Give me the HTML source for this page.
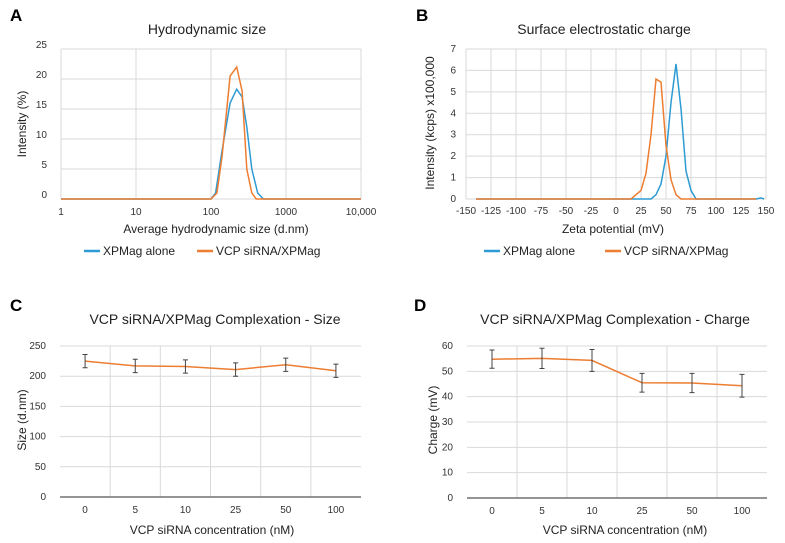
<!DOCTYPE html>
<html><head><meta charset="utf-8"><style>
html,body{margin:0;padding:0;background:#fff;}
svg{display:block;font-family:"Liberation Sans",sans-serif;}
</style></head><body>
<svg id="fig" width="785" height="543" viewBox="0 0 785 543">
<g font-weight="bold" font-size="17" fill="#000">
<text x="10" y="21">A</text>
<text x="416" y="21">B</text>
<text x="10" y="311">C</text>
<text x="414" y="311">D</text>
</g>
<g font-size="14" fill="#222" text-anchor="middle">
<text x="207" y="34">Hydrodynamic size</text>
<text x="604" y="34">Surface electrostatic charge</text>
<text x="215" y="324">VCP siRNA/XPMag Complexation - Size</text>
<text x="615" y="324">VCP siRNA/XPMag Complexation - Charge</text>
</g>
<g font-size="12" fill="#222" text-anchor="middle">
<text x="216" y="233">Average hydrodynamic size (d.nm)</text>
<text x="613" y="233">Zeta potential (mV)</text>
<text x="212" y="534">VCP siRNA concentration (nM)</text>
<text x="625" y="534">VCP siRNA concentration (nM)</text>
<text transform="translate(26,124) rotate(-90)">Intensity (%)</text>
<text transform="translate(434,123) rotate(-90)">Intensity (kcps) x100,000</text>
<text transform="translate(26,420) rotate(-90)">Size (d.nm)</text>
<text transform="translate(437,420) rotate(-90)">Charge (mV)</text>
</g>
<g font-size="12" fill="#222">
<line x1="84" y1="251" x2="100" y2="251" stroke="#2e9bd4" stroke-width="2.5"/>
<text x="103" y="255">XPMag alone</text>
<line x1="197" y1="251" x2="213" y2="251" stroke="#ed7d31" stroke-width="2.5"/>
<text x="216" y="255">VCP siRNA/XPMag</text>
<line x1="484" y1="251" x2="500" y2="251" stroke="#2e9bd4" stroke-width="2.5"/>
<text x="503" y="255">XPMag alone</text>
<line x1="605" y1="251" x2="621" y2="251" stroke="#ed7d31" stroke-width="2.5"/>
<text x="624" y="255">VCP siRNA/XPMag</text>
</g>
<g id="plots"></g>
</svg>
<script>
// Panel A data (x in d.nm, y in %)
const aXTicks = [1, 10, 100, 1000, 10000];
const aXTickLabels = ["1", "10", "100", "1000", "10,000"];
const aYTicks = [0, 5, 10, 15, 20, 25];
const aBlueX = [1, 100, 115, 140, 180, 220, 260, 300, 350, 420, 500, 10000];
const aBlueY = [0, 0, 1, 8, 16, 18.3, 17, 12, 5, 1, 0, 0];
const aOrangeX = [1, 100, 120, 140, 180, 220, 260, 300, 350, 400, 10000];
const aOrangeY = [0, 0, 1, 7, 20.5, 22, 18, 5, 1, 0, 0];
// Panel B data (zeta mV, intensity x100,000)
const bXTicks = [-150, -125, -100, -75, -50, -25, 0, 25, 50, 75, 100, 125, 150];
const bYTicks = [0, 1, 2, 3, 4, 5, 6, 7];
const bBlueX = [-140, 35, 40, 45, 50, 55, 60, 65, 70, 75, 80, 140, 145, 148];
const bBlueY = [0, 0, 0.2, 0.7, 2, 4.5, 6.3, 4.2, 1.3, 0.4, 0, 0, 0.05, 0];
const bOrangeX = [-140, 15, 20, 25, 30, 35, 40, 45, 50, 55, 60, 65, 140];
const bOrangeY = [0, 0, 0.2, 0.4, 1.2, 3, 5.6, 5.45, 2.5, 0.9, 0.2, 0, 0];
// Panels C & D
const concCategories = ["0", "5", "10", "25", "50", "100"];
const cYTicks = [0, 50, 100, 150, 200, 250];
const cSize = [225, 217, 216, 211, 219, 209];
const cSizeErr = [11, 11, 11, 11, 11, 11];
const dYTicks = [0, 10, 20, 30, 40, 50, 60];
const dCharge = [54.8, 55.1, 54.3, 45.5, 45.4, 44.3];
const dChargeErr = [3.6, 4, 4.3, 3.7, 3.8, 4.5];

const NS = "http://www.w3.org/2000/svg";
const root = document.getElementById("plots");
function mk(tag, attrs, parent) {
  const e = document.createElementNS(NS, tag);
  for (const k in attrs) e.setAttribute(k, attrs[k]);
  (parent || root).appendChild(e);
  return e;
}
function txt(x, y, s, anchor) {
  const t = mk("text", {x: x, y: y, "font-size": 10, fill: "#333", "text-anchor": anchor});
  t.textContent = s;
  return t;
}
function linePath(xs, ys, fx, fy) {
  return xs.map((v, i) => (i ? "L" : "M") + fx(v).toFixed(1) + "," + fy(ys[i]).toFixed(1)).join("");
}
const BLUE = "#2e9bd4", ORANGE = "#ed7d31", GRID = "#d9d9d9";

// ---- Panel A
{
  const x0 = 61, x1 = 361, y0 = 199, y1 = 49;
  const fx = v => x0 + (Math.log10(v) - 0) / 4 * (x1 - x0);
  const fy = v => y0 - v / 25 * (y0 - y1);
  aYTicks.forEach(v => {
    const g = mk("line", {x1: x0, x2: x1, y1: fy(v), y2: fy(v), stroke: GRID});
    
    
    const t = txt(x0 - 14, fy(v) - 1, String(v), "end");
    
    
  });
  aXTicks.forEach((v, i) => {
    const g = mk("line", {x1: fx(v), x2: fx(v), y1: y1, y2: y0, stroke: GRID});
    
    
    const t = txt(fx(v), y0 + 16, aXTickLabels[i], "middle");
    
    
  });
  const b = mk("path", {d: linePath(aBlueX, aBlueY, fx, fy), fill: "none", stroke: BLUE, "stroke-width": 1.5});
  
  
  const o = mk("path", {d: linePath(aOrangeX, aOrangeY, fx, fy), fill: "none", stroke: ORANGE, "stroke-width": 1.5});
  
  
}
// ---- Panel B
{
  const x0 = 466, x1 = 766, y0 = 199, y1 = 49;
  const fx = v => x0 + (v + 150) / 300 * (x1 - x0);
  const fy = v => y0 - v / 7 * (y0 - y1);
  bYTicks.forEach(v => {
    const g = mk("line", {x1: x0, x2: x1, y1: fy(v), y2: fy(v), stroke: GRID});
    
    
    const t = txt(x0 - 10, fy(v) + 3, String(v), "end");
    
    
  });
  bXTicks.forEach(v => {
    const g = mk("line", {x1: fx(v), x2: fx(v), y1: y1, y2: y0, stroke: GRID});
    
    
    const t = txt(fx(v), y0 + 15, String(v), "middle");
    
    
  });
  const b = mk("path", {d: linePath(bBlueX, bBlueY, fx, fy), fill: "none", stroke: BLUE, "stroke-width": 1.5});
  
  
  const o = mk("path", {d: linePath(bOrangeX, bOrangeY, fx, fy), fill: "none", stroke: ORANGE, "stroke-width": 1.5});
  
  
}
// ---- Panels C & D
function catPanel(x0, x1, y0, y1, ticks, maxV, vals, errs, suffix) {
  const n = concCategories.length, bw = (x1 - x0) / n;
  const fx = i => x0 + bw * (i + 0.5);
  const fy = v => y0 - v / maxV * (y0 - y1);
  ticks.forEach(v => {
    const g = mk("line", {x1: x0, x2: x1, y1: fy(v), y2: fy(v), stroke: GRID});
    
    
    const t = txt(x0 - 14, fy(v) + 3, String(v), "end");
    
    
  });
  for (let i = 1; i < n; i++) {
    const g = mk("line", {x1: x0 + bw * i, x2: x0 + bw * i, y1: y1, y2: y0, stroke: GRID});
    
    
  }
  const ax = mk("line", {x1: x0, x2: x1, y1: y0, y2: y0, stroke: "#555", "stroke-width": 1.2});
  
  
  concCategories.forEach((c, i) => {
    const t = txt(fx(i), y0 + 16, c, "middle");
    
    
  });
  const xs = vals.map((v, i) => i);
  const p = mk("path", {d: linePath(xs, vals, fx, fy), fill: "none", stroke: ORANGE, "stroke-width": 1.5});
  
  
  vals.forEach((v, i) => {
    const x = fx(i), ya = fy(v + errs[i]), yb = fy(v - errs[i]);
    const e = mk("path", {d: `M${x},${ya}L${x},${yb}M${x-2.5},${ya}L${x+2.5},${ya}M${x-2.5},${yb}L${x+2.5},${yb}`, stroke: "#444", "stroke-width": 1, fill: "none"});
    
    
  });
}
catPanel(60, 361, 497, 346, cYTicks, 250, cSize, cSizeErr, "c");
catPanel(467, 767, 498, 346, dYTicks, 60, dCharge, dChargeErr, "d");
</script>
</body></html>
